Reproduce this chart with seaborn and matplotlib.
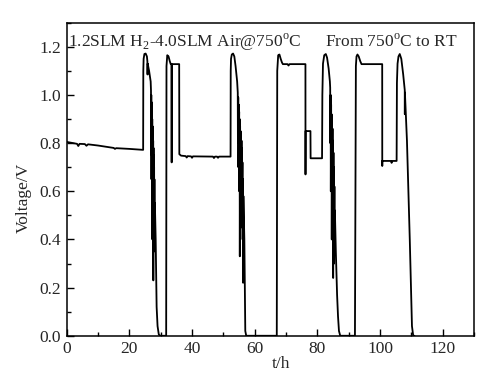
#!/usr/bin/env python3

import matplotlib
matplotlib.use("Agg")
import matplotlib.pyplot as plt
import numpy as np
import pandas as pd
import seaborn as sns
from matplotlib.ticker import MultipleLocator, FormatStrFormatter


# voltage trace, one row per stretch of the test
t_h = [
    0.0, 2.0, 3.3, 3.7, 4.1, 5.8, 6.3, 6.8, 10.0, 15.0, 15.4, 15.8, 20.0, 24.4,
    24.45, 24.55, 24.8, 25.2, 25.6, 25.75, 25.8, 25.85, 26.3, 26.8,
    26.9, 26.95, 27.0, 27.05, 27.1, 27.15, 27.2, 27.25, 27.3, 27.35, 27.4,
    27.45, 27.5, 27.55, 27.6, 27.65, 27.7, 27.75, 27.8, 27.85, 27.9, 27.95,
    28.0, 28.05, 28.15, 28.4, 28.7, 29.0, 29.4, 29.9, 31.7,
    31.75, 31.85, 32.1, 32.5, 32.9, 33.2, 33.45, 33.5, 33.55, 35.9,
    35.95, 36.5, 38.0, 38.3, 38.6, 39.7, 40.0, 40.3, 45.0, 46.7, 47.0, 47.3,
    48.0, 48.3, 48.6, 52.3,
    52.35, 52.45, 52.7, 53.1, 53.5, 53.9, 54.4,
    54.6, 54.65, 54.75, 54.8, 54.9, 54.95, 55.05, 55.1, 55.2, 55.25, 55.35,
    55.4, 55.5, 55.55, 55.65, 55.7, 55.8, 55.85, 55.95, 56.0, 56.1, 56.15,
    56.25, 56.3, 56.4, 56.7, 56.9, 57.0, 57.3, 67.0,
    67.05, 67.2, 67.5, 67.9, 68.3, 68.7, 69.0, 70.5, 70.8, 71.1, 76.2,
    76.22, 76.25, 77.8, 77.85, 79.0, 81.5,
    81.6, 81.8, 82.2, 82.7, 83.1, 83.6, 84.0,
    84.1, 84.15, 84.25, 84.3, 84.4, 84.45, 84.55, 84.6, 84.7, 84.75, 84.85,
    84.9, 85.0, 85.05, 85.15, 85.2, 85.3, 85.35, 85.45, 85.5, 85.6,
    85.9, 86.3, 86.6, 86.9, 87.3, 92.0,
    92.3, 92.5, 92.8, 93.2, 93.7, 94.1, 100.7,
    100.72, 100.75, 101.0, 103.5, 103.7, 103.9, 105.3,
    105.4, 105.6, 105.9, 106.3, 106.8, 107.4, 107.9, 107.92, 107.95,
    108.6, 109.5, 110.2, 110.6, 111.0,
]
voltage = [
    0.805, 0.800, 0.797, 0.788, 0.797, 0.796, 0.789, 0.795, 0.790, 0.780, 0.776, 0.779, 0.776, 0.772,
    1.10, 1.150, 1.170, 1.172, 1.160, 1.140, 1.085, 1.130, 1.100, 1.056,
    1.02, 0.88, 1.00, 0.65, 0.97, 0.75, 0.94, 0.55, 0.90, 0.40, 0.87,
    0.60, 0.84, 0.45, 0.81, 0.23, 0.78, 0.50, 0.75, 0.35, 0.70, 0.45,
    0.65, 0.38, 0.55, 0.40, 0.12, 0.04, 0.005, 0.0, 0.0,
    0.0, 1.12, 1.165, 1.160, 1.140, 1.128, 1.128, 0.72, 1.128, 1.128,
    0.754, 0.748, 0.746, 0.740, 0.746, 0.745, 0.739, 0.745, 0.744, 0.744, 0.738, 0.744,
    0.744, 0.739, 0.744, 0.744,
    1.10, 1.150, 1.168, 1.172, 1.160, 1.120, 1.056,
    1.01, 0.80, 0.99, 0.70, 0.96, 0.85, 0.93, 0.60, 0.90, 0.33, 0.87,
    0.65, 0.85, 0.55, 0.83, 0.45, 0.81, 0.60, 0.78, 0.50, 0.72, 0.40,
    0.65, 0.22, 0.58, 0.40, 0.12, 0.02, 0.0, 0.0,
    0.0, 1.10, 1.165, 1.168, 1.150, 1.135, 1.128, 1.128, 1.122, 1.128, 1.128,
    0.67, 0.85, 0.85, 0.737, 0.737, 0.737,
    1.00, 1.13, 1.165, 1.170, 1.155, 1.110, 1.056,
    1.03, 0.80, 1.00, 0.60, 0.96, 0.75, 0.92, 0.40, 0.89, 0.65, 0.86,
    0.50, 0.81, 0.24, 0.76, 0.55, 0.70, 0.30, 0.62, 0.45, 0.52,
    0.35, 0.17, 0.08, 0.02, 0.0, 0.0,
    1.12, 1.160, 1.168, 1.160, 1.140, 1.128, 1.128,
    0.705, 0.726, 0.726, 0.726, 0.718, 0.726, 0.726,
    1.05, 1.13, 1.160, 1.170, 1.150, 1.085, 1.02, 0.92, 1.01,
    0.81, 0.40, 0.04, 0.0, 0.0,
]

condition_label = "1.2SLM H$_2$-4.0SLM Air@750$^{\\mathrm{o}}$C"
cooling_label = "From 750$^{\\mathrm{o}}$C to RT"


sns.set_style("ticks")
plt.rcParams['font.family'] = ['Liberation Serif', 'DejaVu Serif']
plt.rcParams['mathtext.fontset'] = 'custom'
plt.rcParams['mathtext.rm'] = 'Liberation Serif'
plt.rcParams['font.size'] = 12.5

df = pd.DataFrame({"t": t_h, "V": voltage})

fig = plt.figure(figsize=(5, 3.76), dpi=100)
ax = fig.add_axes([0.1334, 0.107, 0.8146, 0.8326])

sns.lineplot(data=df, x="t", y="V", sort=False, estimator=None,
             color="black", lw=1.3, ax=ax)

ax.set_xlim(0, 130)
ax.set_ylim(0, 1.3)
ax.xaxis.set_major_locator(MultipleLocator(20))
ax.xaxis.set_minor_locator(MultipleLocator(10))
ax.yaxis.set_major_locator(MultipleLocator(0.2))
ax.yaxis.set_minor_locator(MultipleLocator(0.1))
ax.yaxis.set_major_formatter(FormatStrFormatter('%.1f'))
ax.set_yticks(np.arange(0, 1.21, 0.2))
ax.tick_params(which='major', direction='in', length=5, width=1, labelsize=12.5, pad=4, color='black')
ax.tick_params(which='minor', direction='in', length=3, width=1, color='black')

for s in ax.spines.values():
    s.set_linewidth(1.1)
    s.set_color('black')

ax.set_xlabel('t/h', fontsize=12.5)
ax.set_ylabel('Voltage/V', fontsize=12.5)
ax.xaxis.set_label_coords(0.526, -0.065)
ax.yaxis.set_label_coords(-0.085, 0.44)

ax.text(0.3, 1.20, condition_label, fontsize=12.5, va='baseline', ha='left')
ax.text(82.4, 1.20, cooling_label, fontsize=12.5, va='baseline', ha='left')

fig.savefig("out.png", dpi=100)
plt.close()
